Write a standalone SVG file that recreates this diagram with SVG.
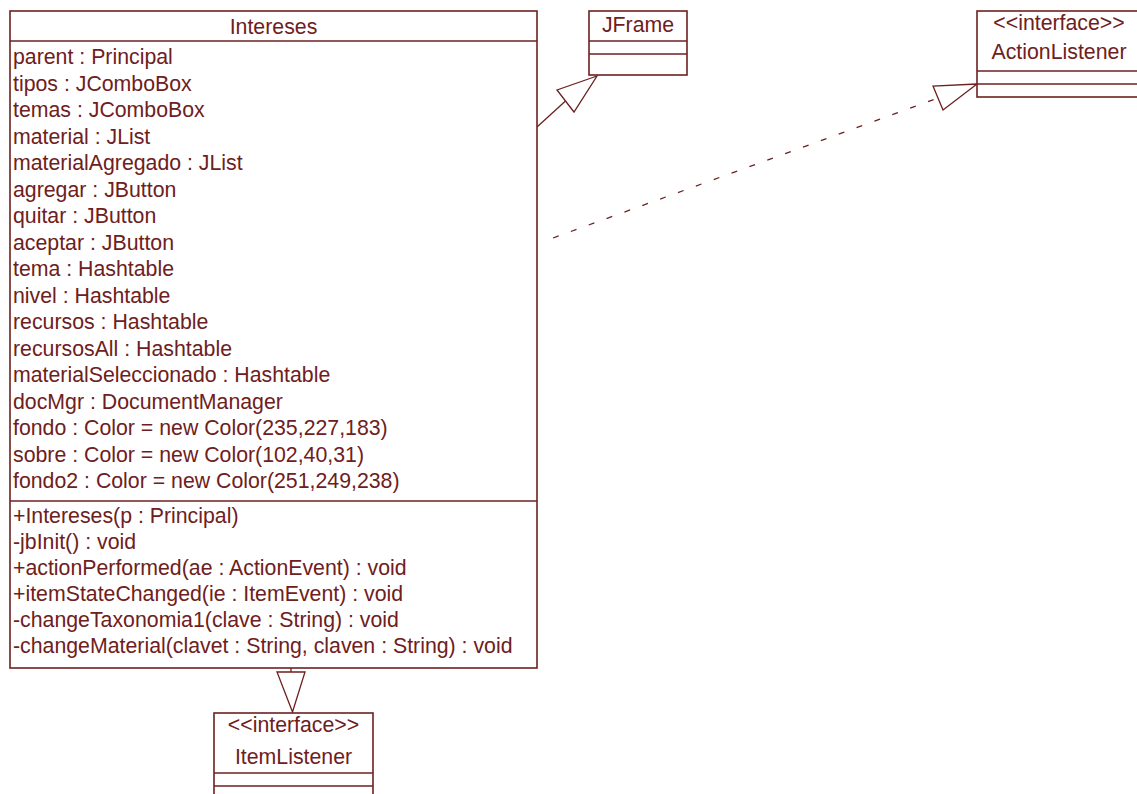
<svg xmlns="http://www.w3.org/2000/svg" width="1137" height="794" viewBox="0 0 1137 794">
<style>
.box{fill:#ffffff;stroke:#6e2020;stroke-width:1.6}
.sep{stroke:#6e2020;stroke-width:1.6}
.t{font-family:"Liberation Sans",Arial,sans-serif;font-size:21.3px;fill:#6e2020}
.c{text-anchor:middle}
.edge{fill:none;stroke:#6e2020;stroke-width:1.3}
.dash{stroke-dasharray:6 13}
.head{fill:#ffffff;stroke:#6e2020;stroke-width:1.3}
</style>
<rect width="1137" height="794" fill="#ffffff"/>
<g id="connectors">
  <line class="edge" x1="537" y1="127" x2="565.5" y2="101"/>
  <polygon class="head" points="597,76 557,90 574,112"/>
  <line class="edge dash" x1="553" y1="238" x2="938" y2="98"/>
  <polygon class="head" points="977,84 933,86 943,110"/>
  <line class="edge" x1="291" y1="668" x2="291" y2="672"/>
  <polygon class="head" points="277,672 305,672 292.5,712"/>
</g>
<g id="Intereses">
  <rect class="box" x="10" y="11" width="527" height="657"/>
  <line class="sep" x1="10" y1="41" x2="537" y2="41"/>
  <line class="sep" x1="10" y1="501" x2="537" y2="501"/>
  <text class="t c" x="273.5" y="34">Intereses</text>
  <text class="t" x="13" y="64">parent : Principal</text>
  <text class="t" x="13" y="90.5">tipos : JComboBox</text>
  <text class="t" x="13" y="117">temas : JComboBox</text>
  <text class="t" x="13" y="143.5">material : JList</text>
  <text class="t" x="13" y="170">materialAgregado : JList</text>
  <text class="t" x="13" y="196.5">agregar : JButton</text>
  <text class="t" x="13" y="223">quitar : JButton</text>
  <text class="t" x="13" y="249.5">aceptar : JButton</text>
  <text class="t" x="13" y="276">tema : Hashtable</text>
  <text class="t" x="13" y="302.5">nivel : Hashtable</text>
  <text class="t" x="13" y="329">recursos : Hashtable</text>
  <text class="t" x="13" y="355.5">recursosAll : Hashtable</text>
  <text class="t" x="13" y="382">materialSeleccionado : Hashtable</text>
  <text class="t" x="13" y="408.5">docMgr : DocumentManager</text>
  <text class="t" x="13" y="435">fondo : Color = new Color(235,227,183)</text>
  <text class="t" x="13" y="461.5">sobre : Color = new Color(102,40,31)</text>
  <text class="t" x="13" y="488">fondo2 : Color = new Color(251,249,238)</text>
  <text class="t" x="13" y="523">+Intereses(p : Principal)</text>
  <text class="t" x="13" y="549">-jbInit() : void</text>
  <text class="t" x="13" y="575">+actionPerformed(ae : ActionEvent) : void</text>
  <text class="t" x="13" y="601">+itemStateChanged(ie : ItemEvent) : void</text>
  <text class="t" x="13" y="627">-changeTaxonomia1(clave : String) : void</text>
  <text class="t" x="13" y="653">-changeMaterial(clavet : String, claven : String) : void</text>
</g>
<g id="JFrame">
  <rect class="box" x="589" y="11" width="98" height="64"/>
  <line class="sep" x1="589" y1="41" x2="687" y2="41"/>
  <line class="sep" x1="589" y1="54" x2="687" y2="54"/>
  <text class="t c" x="638" y="32">JFrame</text>
</g>
<g id="ActionListener">
  <rect class="box" x="977" y="11" width="166" height="86"/>
  <line class="sep" x1="977" y1="71" x2="1143" y2="71"/>
  <line class="sep" x1="977" y1="84" x2="1143" y2="84"/>
  <text class="t c" x="1059" y="30">&lt;&lt;interface&gt;&gt;</text>
  <text class="t c" x="1059" y="59">ActionListener</text>
</g>
<g id="ItemListener">
  <rect class="box" x="214" y="713" width="159" height="90"/>
  <line class="sep" x1="214" y1="773" x2="373" y2="773"/>
  <line class="sep" x1="214" y1="786" x2="373" y2="786"/>
  <text class="t c" x="293.5" y="732">&lt;&lt;interface&gt;&gt;</text>
  <text class="t c" x="293.5" y="764">ItemListener</text>
</g>
</svg>
